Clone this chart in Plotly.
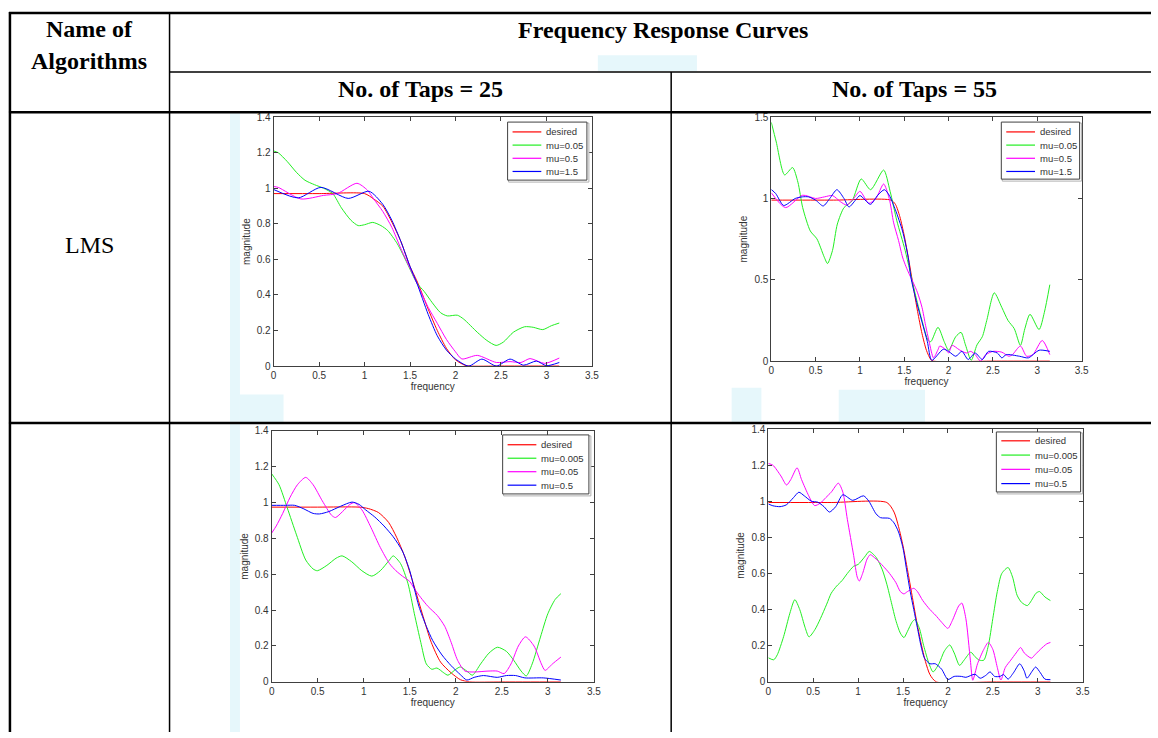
import plotly.graph_objects as go

W, H = 1158, 738

# ---------------- data ----------------
# Plot 1: LMS, taps = 25
p1_desired_x = [0, 0.5, 1.0, 1.1, 1.2, 1.3, 1.4, 1.5, 1.57, 1.6, 1.7, 1.8, 1.9, 2.0, 2.1, 2.15, 2.5, 3.1416]
p1_desired_y = [0.97, 0.97, 0.97, 0.94, 0.90, 0.81, 0.70, 0.56, 0.485, 0.45, 0.32, 0.20, 0.10, 0.035, 0.005, 0.0, 0.0, 0.0]
p1_g_x = [0, 0.05, 0.15, 0.25, 0.345, 0.45, 0.55, 0.65, 0.745, 0.85, 0.93, 1.0, 1.09, 1.18, 1.255, 1.36, 1.47, 1.575, 1.655, 1.745, 1.836, 1.91, 2.02, 2.09, 2.24, 2.345, 2.447, 2.527, 2.636, 2.76, 2.855, 2.96, 3.055, 3.1416]
p1_g_y = [1.21, 1.20, 1.15, 1.09, 1.045, 1.02, 1.0, 0.97, 0.89, 0.82, 0.79, 0.795, 0.808, 0.79, 0.762, 0.688, 0.577, 0.467, 0.42, 0.356, 0.30, 0.282, 0.286, 0.264, 0.19, 0.144, 0.116, 0.135, 0.19, 0.221, 0.218, 0.205, 0.227, 0.242]
p1_m_x = [0, 0.05, 0.3, 0.55, 0.7, 0.916, 1.03, 1.1, 1.2, 1.3, 1.4, 1.5, 1.575, 1.7, 1.8, 1.9, 2.0, 2.07, 2.24, 2.45, 2.6, 2.72, 2.82, 2.98, 3.1416]
p1_m_y = [1.01, 1.005, 0.94, 0.96, 0.97, 1.028, 0.99, 0.94, 0.87, 0.78, 0.66, 0.55, 0.467, 0.33, 0.24, 0.15, 0.08, 0.04, 0.06, 0.02, 0.025, 0.02, 0.042, 0.015, 0.045]
p1_b_x = [0, 0.27, 0.52, 0.82, 1.05, 1.2, 1.3, 1.4, 1.5, 1.575, 1.7, 1.8, 1.9, 2.0, 2.145, 2.29, 2.45, 2.6, 2.75, 2.89, 3.0, 3.1416]
p1_b_y = [0.993, 0.946, 1.005, 0.943, 0.983, 0.91, 0.82, 0.70, 0.56, 0.467, 0.29, 0.17, 0.09, 0.04, 0.0, 0.039, 0.0, 0.039, 0.005, 0.028, 0.002, 0.02]

# Plot 2: LMS, taps = 55
p2_desired_x = [0, 0.7, 1.35, 1.4, 1.45, 1.5, 1.55, 1.6, 1.65, 1.7, 1.75, 1.8, 1.83, 2.5, 3.1416]
p2_desired_y = [0.99, 0.99, 0.99, 0.964, 0.888, 0.77, 0.623, 0.463, 0.305, 0.169, 0.066, 0.009, 0.0, 0.0, 0.0]
p2_g_x = [0, 0.056, 0.15, 0.24, 0.3, 0.354, 0.44, 0.514, 0.596, 0.634, 0.69, 0.745, 0.82, 0.91, 1.014, 1.12, 1.267, 1.34, 1.416, 1.51, 1.62, 1.696, 1.77, 1.80, 1.88, 1.95, 2.0, 2.08, 2.14, 2.19, 2.255, 2.32, 2.38, 2.43, 2.515, 2.6, 2.67, 2.74, 2.81, 2.86, 2.918, 3.02, 3.08, 3.1416]
p2_g_y = [1.468, 1.347, 1.145, 1.19, 1.10, 0.944, 0.80, 0.752, 0.641, 0.60, 0.68, 0.843, 0.944, 0.984, 1.12, 1.054, 1.175, 1.044, 0.863, 0.68, 0.42, 0.258, 0.127, 0.12, 0.208, 0.12, 0.067, 0.15, 0.177, 0.10, 0.005, 0.10, 0.15, 0.25, 0.42, 0.33, 0.25, 0.20, 0.097, 0.20, 0.288, 0.194, 0.30, 0.47]
p2_m_x = [0, 0.16, 0.354, 0.5, 0.6, 0.69, 0.78, 0.85, 0.93, 1.0, 1.1, 1.18, 1.267, 1.33, 1.38, 1.435, 1.48, 1.52, 1.56, 1.603, 1.65, 1.7, 1.74, 1.78, 1.83, 1.88, 1.90, 1.97, 2.0, 2.04, 2.12, 2.2, 2.25, 2.3, 2.36, 2.42, 2.5, 2.6, 2.68, 2.72, 2.81, 2.88, 2.95, 3.056, 3.1416]
p2_m_y = [1.035, 0.944, 1.02, 1.0, 1.01, 1.018, 0.98, 0.96, 1.0, 1.044, 0.97, 1.0, 1.089, 1.0, 0.85, 0.742, 0.64, 0.58, 0.53, 0.48, 0.42, 0.33, 0.22, 0.12, 0.02, 0.07, 0.093, 0.07, 0.05, 0.097, 0.07, 0.05, 0.06, 0.04, 0.0, 0.04, 0.06, 0.055, 0.03, 0.04, 0.093, 0.03, 0.04, 0.127, 0.04]
p2_b_x = [0, 0.05, 0.14, 0.27, 0.35, 0.42, 0.5, 0.585, 0.66, 0.74, 0.82, 0.876, 0.95, 1.0, 1.118, 1.2, 1.275, 1.33, 1.4, 1.48, 1.54, 1.58, 1.64, 1.7, 1.76, 1.81, 1.94, 2.0, 2.08, 2.15, 2.22, 2.3, 2.38, 2.45, 2.55, 2.6, 2.65, 2.8, 2.9, 3.02, 3.1416]
p2_b_y = [1.055, 1.03, 0.957, 1.0, 1.01, 1.01, 0.99, 0.954, 1.0, 1.054, 1.0, 0.948, 0.99, 1.018, 0.964, 1.02, 1.054, 1.02, 0.93, 0.80, 0.65, 0.50, 0.36, 0.24, 0.12, 0.005, 0.073, 0.06, 0.03, 0.06, 0.01, 0.05, 0.01, 0.06, 0.05, 0.02, 0.04, 0.03, 0.02, 0.067, 0.06]

# Plot 3: second algorithm, taps = 25
p3_desired_x = [0, 0.5, 0.95, 1.05, 1.16, 1.27, 1.357, 1.447, 1.544, 1.644, 1.734, 1.835, 1.95, 2.05, 2.15, 2.5, 3.1416]
p3_desired_y = [0.975, 0.975, 0.975, 0.967, 0.945, 0.89, 0.807, 0.697, 0.54, 0.367, 0.22, 0.11, 0.05, 0.012, 0.0, 0.0, 0.0]
p3_g_x = [0, 0.08, 0.17, 0.27, 0.37, 0.45, 0.496, 0.6, 0.7, 0.765, 0.87, 0.98, 1.088, 1.18, 1.28, 1.32, 1.4, 1.48, 1.55, 1.62, 1.68, 1.74, 1.795, 1.87, 1.915, 2.0, 2.05, 2.12, 2.18, 2.27, 2.36, 2.453, 2.55, 2.63, 2.71, 2.766, 2.83, 2.92, 3.0, 3.08, 3.1416]
p3_g_y = [1.161, 1.10, 0.97, 0.82, 0.68, 0.63, 0.62, 0.65, 0.69, 0.703, 0.67, 0.62, 0.59, 0.62, 0.68, 0.703, 0.66, 0.55, 0.38, 0.22, 0.10, 0.07, 0.077, 0.05, 0.037, 0.07, 0.083, 0.06, 0.037, 0.10, 0.16, 0.193, 0.17, 0.12, 0.06, 0.033, 0.10, 0.25, 0.38, 0.46, 0.492]
p3_m_x = [0, 0.05, 0.12, 0.2, 0.28, 0.37, 0.45, 0.55, 0.65, 0.693, 0.77, 0.85, 0.9, 0.98, 1.08, 1.18, 1.28, 1.35, 1.42, 1.5, 1.55, 1.62, 1.7, 1.8, 1.88, 1.95, 2.02, 2.1, 2.2, 2.35, 2.45, 2.525, 2.6, 2.68, 2.757, 2.85, 2.93, 2.97, 3.05, 3.1416]
p3_m_y = [0.83, 0.87, 0.94, 1.03, 1.10, 1.141, 1.10, 1.01, 0.93, 0.917, 0.95, 0.99, 1.0, 0.96, 0.86, 0.75, 0.66, 0.62, 0.59, 0.56, 0.52, 0.47, 0.42, 0.37, 0.31, 0.22, 0.12, 0.06, 0.055, 0.06, 0.06, 0.046, 0.10, 0.20, 0.251, 0.20, 0.10, 0.064, 0.10, 0.138]
p3_b_x = [0, 0.15, 0.25, 0.35, 0.45, 0.52, 0.62, 0.75, 0.873, 0.95, 1.02, 1.12, 1.22, 1.32, 1.42, 1.5, 1.55, 1.6, 1.68, 1.75, 1.85, 1.95, 2.05, 2.12, 2.2, 2.3, 2.45, 2.55, 2.65, 2.75, 2.95, 3.1416]
p3_b_y = [0.985, 0.985, 0.985, 0.965, 0.94, 0.937, 0.95, 0.98, 1.003, 0.99, 0.96, 0.92, 0.87, 0.81, 0.73, 0.62, 0.52, 0.42, 0.31, 0.23, 0.15, 0.09, 0.04, 0.01, 0.025, 0.035, 0.025, 0.035, 0.035, 0.022, 0.022, 0.01]

# Plot 4: second algorithm, taps = 55
p4_desired_x = [0, 0.7, 1.32, 1.4, 1.45, 1.5, 1.55, 1.6, 1.65, 1.7, 1.75, 1.8, 1.87, 2.5, 3.1416]
p4_desired_y = [0.993, 0.993, 0.993, 0.94, 0.86, 0.753, 0.62, 0.48, 0.34, 0.216, 0.112, 0.04, 0.0, 0.0, 0.0]
p4_g_x = [0, 0.06, 0.1, 0.17, 0.24, 0.295, 0.35, 0.41, 0.453, 0.52, 0.58, 0.65, 0.7, 0.76, 0.82, 0.88, 0.95, 1.0, 1.07, 1.124, 1.2, 1.27, 1.32, 1.37, 1.42, 1.47, 1.51, 1.55, 1.6, 1.632, 1.68, 1.73, 1.79, 1.835, 1.9, 1.96, 2.02, 2.07, 2.13, 2.18, 2.255, 2.3, 2.35, 2.4, 2.45, 2.5, 2.55, 2.6, 2.67, 2.72, 2.77, 2.82, 2.885, 2.93, 2.98, 3.02, 3.08, 3.1416]
p4_g_y = [0.133, 0.122, 0.15, 0.25, 0.38, 0.455, 0.40, 0.30, 0.249, 0.29, 0.35, 0.43, 0.49, 0.53, 0.56, 0.60, 0.64, 0.65, 0.69, 0.722, 0.69, 0.62, 0.54, 0.44, 0.34, 0.27, 0.245, 0.28, 0.33, 0.345, 0.30, 0.20, 0.10, 0.055, 0.10, 0.17, 0.204, 0.16, 0.091, 0.12, 0.164, 0.14, 0.12, 0.12, 0.20, 0.35, 0.50, 0.60, 0.633, 0.58, 0.48, 0.44, 0.422, 0.45, 0.49, 0.50, 0.47, 0.45]
p4_m_x = [0, 0.05, 0.14, 0.203, 0.25, 0.32, 0.37, 0.45, 0.516, 0.58, 0.64, 0.7, 0.78, 0.83, 0.88, 0.95, 0.99, 1.013, 1.05, 1.1, 1.135, 1.2, 1.28, 1.35, 1.42, 1.47, 1.51, 1.55, 1.62, 1.66, 1.72, 1.8, 1.86, 1.93, 2.0, 2.05, 2.12, 2.155, 2.2, 2.25, 2.277, 2.33, 2.4, 2.45, 2.5, 2.55, 2.59, 2.64, 2.7, 2.76, 2.81, 2.85, 2.93, 2.97, 3.03, 3.1, 3.1416]
p4_m_y = [1.209, 1.20, 1.14, 1.09, 1.12, 1.185, 1.12, 1.03, 0.976, 0.99, 1.02, 1.05, 1.10, 1.05, 0.90, 0.70, 0.58, 0.558, 0.60, 0.68, 0.704, 0.68, 0.64, 0.60, 0.55, 0.50, 0.487, 0.50, 0.518, 0.50, 0.45, 0.40, 0.37, 0.33, 0.296, 0.34, 0.42, 0.436, 0.35, 0.12, 0.009, 0.10, 0.18, 0.218, 0.18, 0.08, 0.01, 0.08, 0.12, 0.16, 0.19, 0.16, 0.131, 0.15, 0.18, 0.21, 0.218]
p4_b_x = [0, 0.05, 0.13, 0.2, 0.28, 0.34, 0.4, 0.48, 0.55, 0.62, 0.68, 0.75, 0.83, 0.94, 1.06, 1.12, 1.2, 1.25, 1.35, 1.4, 1.45, 1.5, 1.54, 1.58, 1.62, 1.66, 1.7, 1.74, 1.8, 1.86, 1.93, 2.0, 2.07, 2.15, 2.2, 2.3, 2.36, 2.42, 2.47, 2.52, 2.58, 2.62, 2.67, 2.73, 2.8, 2.85, 2.88, 2.94, 2.977, 3.03, 3.08, 3.1416]
p4_b_y = [0.985, 0.975, 0.97, 0.98, 1.02, 1.05, 1.03, 1.0, 0.995, 0.97, 0.94, 0.97, 1.036, 1.005, 1.03, 1.0, 0.93, 0.909, 0.905, 0.88, 0.83, 0.74, 0.62, 0.50, 0.40, 0.30, 0.20, 0.13, 0.10, 0.10, 0.07, 0.013, 0.03, 0.03, 0.025, 0.042, 0.02, 0.035, 0.055, 0.03, 0.03, 0.04, 0.015, 0.05, 0.10, 0.06, 0.02, 0.06, 0.082, 0.05, 0.015, 0.012]

# labels
header_name = ["Name of", "Algorithms"]
header_curves = "Frequency Response Curves"
col_labels = ["No. of Taps = 25", "No. of Taps = 55"]
row_labels = ["LMS", ""]
legend_top = ["desired", "mu=0.05", "mu=0.5", "mu=1.5"]
legend_bottom = ["desired", "mu=0.005", "mu=0.05", "mu=0.5"]
x_ticks = [0, 0.5, 1, 1.5, 2, 2.5, 3, 3.5]
x_ticktext = ["0", "0.5", "1", "1.5", "2", "2.5", "3", "3.5"]
y_ticks_14 = [0, 0.2, 0.4, 0.6, 0.8, 1.0, 1.2, 1.4]
y_ticktext_14 = ["0", "0.2", "0.4", "0.6", "0.8", "1", "1.2", "1.4"]
y_ticks_15 = [0, 0.5, 1.0, 1.5]
y_ticktext_15 = ["0", "0.5", "1", "1.5"]

colors = ["#ff0000", "#22ee22", "#ff00ff", "#0000ff"]

# ---------------- layout helpers (window pixel -> paper) ----------------
def px(x):
    return x / W

def py(y):
    return 1 - y / H

# plot boxes in pixels: (left, right, top, bottom)
boxes = [(273, 594, 113, 366), (775, 1088, 113, 361), (271, 596, 432, 687), (772, 1089, 430, 687)]
# legend boxes in pixels: (left, top, right, bottom, first-row y, row step)
legend_boxes = [(509, 118, 589, 177, 128, 13.4), (1007, 118, 1086, 176, 128, 13.4),
                (504, 436, 591, 496, 446, 13.7), (1002, 433, 1087, 494, 442, 14.5)]

fig = go.Figure()

series = [
    [(p1_desired_x, p1_desired_y), (p1_g_x, p1_g_y), (p1_m_x, p1_m_y), (p1_b_x, p1_b_y)],
    [(p2_desired_x, p2_desired_y), (p2_g_x, p2_g_y), (p2_m_x, p2_m_y), (p2_b_x, p2_b_y)],
    [(p3_desired_x, p3_desired_y), (p3_g_x, p3_g_y), (p3_m_x, p3_m_y), (p3_b_x, p3_b_y)],
    [(p4_desired_x, p4_desired_y), (p4_g_x, p4_g_y), (p4_m_x, p4_m_y), (p4_b_x, p4_b_y)],
]
names = [legend_top, legend_top, legend_bottom, legend_bottom]

shapes = []
ann = []

# ---------------- faint watermark patches (behind everything) ----------------
wm = "#e6f7fb"
watermark = [(229, 239, 108, 738), (239, 283, 395, 423), (600, 700, 50, 66),
             (735, 765, 388, 423), (843, 930, 390, 423)]
for x0, x1, y0, y1 in watermark:
    shapes.append(dict(type="rect", xref="paper", yref="paper", x0=px(x0), x1=px(x1),
                       y0=py(y1), y1=py(y0), line=dict(width=0), fillcolor=wm, layer="below"))

sans = "Liberation Sans, Arial, sans-serif"
axis_font = dict(family=sans, size=10, color="#333333")
for i, (ser, nm) in enumerate(zip(series, names)):
    xa = "x" if i == 0 else f"x{i+1}"
    ya = "y" if i == 0 else f"y{i+1}"
    for (xs, ys), n, c in zip(ser, nm, colors):
        fig.add_trace(go.Scatter(
            x=xs, y=ys, mode="lines", name=n, xaxis=xa, yaxis=ya, showlegend=False,
            line=dict(color=c, width=1, shape="spline", smoothing=0.7),
            hoverinfo="skip"))
    l, r, t, b = boxes[i]
    ymax = 1.5 if i == 1 else 1.4
    yt = y_ticks_15 if i == 1 else y_ticks_14
    ytt = y_ticktext_15 if i == 1 else y_ticktext_14
    xkey = "xaxis" if i == 0 else f"xaxis{i+1}"
    ykey = "yaxis" if i == 0 else f"yaxis{i+1}"
    common = dict(showline=True, linecolor="#404040", linewidth=1, mirror="ticks",
                  ticks="inside", ticklen=4, tickcolor="#404040", showgrid=False,
                  zeroline=False, tickfont=axis_font, fixedrange=True)
    fig.layout[xkey] = dict(domain=[px(l), px(r)], range=[0, 3.5], tickvals=x_ticks,
                            ticktext=x_ticktext, anchor=ya,
                            title=dict(text="frequency", font=dict(family=sans, size=10, color="#333333"), standoff=2),
                            **common)
    fig.layout[ykey] = dict(domain=[py(b), py(t)], range=[0, ymax], tickvals=yt,
                            ticktext=ytt, anchor=xa,
                            title=dict(text="magnitude", font=dict(family=sans, size=10, color="#333333"), standoff=4),
                            **common)
    # legend box, drawn as in the MATLAB figure
    lx0, ly0, lx1, ly1, ry, step = legend_boxes[i]
    shapes.append(dict(type="rect", xref="paper", yref="paper", x0=px(lx0 + 1), x1=px(lx1 + 2),
                       y0=py(ly0 + 1), y1=py(ly1 + 2), line=dict(color="#b0b0b0", width=1),
                       fillcolor="white", layer="above"))
    shapes.append(dict(type="rect", xref="paper", yref="paper", x0=px(lx0), x1=px(lx1),
                       y0=py(ly0), y1=py(ly1), line=dict(color="#404040", width=1),
                       fillcolor="white", layer="above"))
    for k, (n, c) in enumerate(zip(nm, colors)):
        yy = ry + k * step
        shapes.append(dict(type="line", xref="paper", yref="paper", x0=px(lx0 + 5), x1=px(lx0 + 34),
                           y0=py(yy), y1=py(yy), line=dict(color=c, width=1.2), layer="above"))
        ann.append(dict(text=n, x=px(lx0 + 37), y=py(yy), xanchor="left", yanchor="middle",
                        font=dict(family=sans, size=9.5, color="#333333")))

# ---------------- table lines ----------------
def hline(x0, x1, y, w=2):
    shapes.append(dict(type="line", xref="paper", yref="paper", x0=px(x0), x1=px(x1),
                       y0=py(y), y1=py(y), line=dict(color="black", width=w), layer="above"))
def vline(x, y0, y1, w=2):
    shapes.append(dict(type="line", xref="paper", yref="paper", x0=px(x), x1=px(x),
                       y0=py(y0), y1=py(y1), line=dict(color="black", width=w), layer="above"))

hline(6, W, 7, 2.5)
hline(168, W, 67, 1.5)
hline(6, W, 108, 2.5)
hline(6, W, 424, 2.5)
vline(7, 6, H, 2.5)
vline(168, 6, H, 1.5)
vline(674, 67, H, 1.5)

serif_b = dict(family="Liberation Serif, Times New Roman, serif", size=24, color="black")
serif = dict(family="Liberation Serif, Times New Roman, serif", size=24, color="black")
ann += [
    dict(text=f"<b>{header_name[0]}</b>", x=px(87), y=py(23), font=serif_b),
    dict(text=f"<b>{header_name[1]}</b>", x=px(87), y=py(56), font=serif_b),
    dict(text=f"<b>{header_curves}</b>", x=px(666), y=py(24), font=serif_b),
    dict(text=f"<b>{col_labels[0]}</b>", x=px(421), y=py(84), font=serif_b),
    dict(text=f"<b>{col_labels[1]}</b>", x=px(919), y=py(84), font=serif_b),
    dict(text=row_labels[0], x=px(87), y=py(243), font=serif),
]
for a in ann:
    a.setdefault("xanchor", "center")
    a.setdefault("yanchor", "middle")
    a.update(xref="paper", yref="paper", showarrow=False)

fig.update_layout(shapes=shapes, annotations=ann)
fig.update_layout(width=W, height=H, margin=dict(l=0, r=0, t=0, b=0),
                  paper_bgcolor="white", plot_bgcolor="white", showlegend=False)

fig.write_html("out.html", config={"displayModeBar": False})
